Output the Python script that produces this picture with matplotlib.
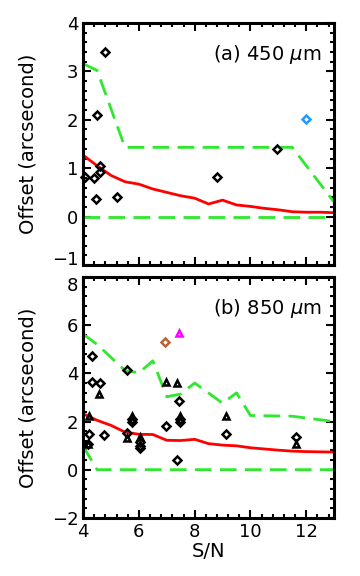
import matplotlib
matplotlib.use('Agg')
import matplotlib.pyplot as plt
from matplotlib.ticker import MultipleLocator
from matplotlib.transforms import ScaledTranslation

# panel (a) 450 um
a_sn = [4.0, 4.5, 5.0, 5.5, 6.0, 6.5, 7.0, 7.5, 8.0, 8.5, 9.0, 9.5, 10.0, 10.5, 11.0, 11.5, 12.0, 12.5, 13.0]
a_mean = [1.27, 1.05, 0.85, 0.72, 0.67, 0.57, 0.50, 0.43, 0.38, 0.26, 0.34, 0.24, 0.21, 0.17, 0.14, 0.10, 0.09, 0.09, 0.08]
a_up_sn = [4.0, 4.5, 5.5, 11.5, 13.0]
a_up = [3.16, 3.02, 1.43, 1.43, 0.30]
a_lo_sn = [4.0, 13.0]
a_lo = [0.0, 0.0]
a_dia_x = [4.08, 4.38, 4.50, 4.47, 4.59, 4.59, 4.78, 5.20, 8.81, 10.94]
a_dia_y = [0.81, 0.79, 2.10, 0.37, 1.04, 0.92, 3.40, 0.41, 0.81, 1.39]
a_blue = (11.99, 2.01)

# panel (b) 850 um
b_sn = [4.0, 4.5, 5.0, 5.5, 6.0, 6.5, 7.0, 7.5, 8.0, 8.5, 9.0, 9.5, 10.0, 10.5, 11.0, 11.5, 12.0, 12.5, 13.0]
b_mean = [2.32, 2.05, 1.84, 1.56, 1.47, 1.46, 1.22, 1.21, 1.26, 1.08, 1.02, 0.99, 0.91, 0.86, 0.81, 0.77, 0.75, 0.74, 0.73]
b_up_sn = [4.0, 4.5, 5.5, 6.0, 6.5, 7.0, 7.5, 8.0, 9.0, 9.5, 10.0, 11.5, 13.0]
b_up = [5.63, 5.20, 4.12, 4.02, 4.52, 3.03, 3.14, 3.60, 2.76, 3.19, 2.25, 2.22, 2.00]
b_lo_sn = [4.0, 4.5, 13.0]
b_lo = [0.97, 0.0, 0.0]
b_dia_x = [4.17, 4.20, 4.32, 4.32, 4.60, 4.74, 5.57, 5.57, 5.74, 5.74, 6.04, 6.04, 6.04,
           6.96, 7.44, 7.46, 7.46, 7.36, 9.14, 11.65]
b_dia_y = [1.08, 1.49, 4.73, 3.63, 3.60, 1.46, 4.14, 1.52, 2.10, 1.97, 1.13, 1.00, 0.90,
           1.83, 2.84, 2.10, 2.00, 0.39, 1.49, 1.36]
b_tri_x = [4.17, 4.20, 4.58, 5.57, 5.74, 6.04, 6.96, 7.36, 7.46, 9.14, 11.65]
b_tri_y = [1.08, 2.24, 3.14, 1.31, 2.24, 1.34, 3.63, 3.60, 2.24, 2.24, 1.05]
b_brown = (6.94, 5.32)
b_magenta = (7.44, 5.66)

plt.rcParams['font.family'] = ['DejaVu Sans']
fig = plt.figure(figsize=(3.6, 5.76), dpi=100)
ax1 = fig.add_axes([0.231, 0.540, 0.697, 0.420])
ax2 = fig.add_axes([0.231, 0.101, 0.697, 0.418])

green = '#2ee82e'
dash = (0, (6, 3))
dia = dict(linestyle='none', marker='D', markersize=4, markerfacecolor='none', markeredgewidth=1.8)
tri = dict(linestyle='none', marker='^', markersize=5, markerfacecolor='none', markeredgewidth=1.8)


def style(ax, ylo, yhi, ymaj, ymin):
    ax.set_xlim(4, 13)
    ax.set_ylim(ylo, yhi)
    ax.xaxis.set_major_locator(MultipleLocator(2))
    ax.xaxis.set_minor_locator(MultipleLocator(0.4))
    ax.yaxis.set_major_locator(MultipleLocator(ymaj))
    ax.yaxis.set_minor_locator(MultipleLocator(ymin))
    ax.tick_params(which='both', direction='in', top=True, right=True, width=1.5, labelsize=13)
    ax.tick_params(which='major', length=6)
    ax.tick_params(which='minor', length=3)
    for s in ax.spines.values():
        s.set_linewidth(2.2)
    ax.set_ylabel('Offset (arcsecond)', fontsize=14, labelpad=10)


ax1.plot(a_sn, a_mean, color='red', lw=2)
ax1.plot(a_up_sn, a_up, color=green, lw=2, linestyle=dash)
ax1.plot(a_lo_sn, a_lo, color=green, lw=2, linestyle=dash)
ax1.plot(a_dia_x, a_dia_y, markeredgecolor='black', clip_on=False, **dia)
ax1.plot([a_blue[0]], [a_blue[1]], markeredgecolor='#2299ff', **dia)
ax1.text(0.95, 0.87, r'(a) 450 $\mu$m', transform=ax1.transAxes, ha='right', va='center', fontsize=14)
style(ax1, -1, 4, 1, 0.2)
ax1.tick_params(labelbottom=False)

ax2.plot(b_sn, b_mean, color='red', lw=2)
ax2.plot(b_up_sn, b_up, color=green, lw=2, linestyle=dash)
ax2.plot(b_lo_sn, b_lo, color=green, lw=2, linestyle=dash)
ax2.plot(b_dia_x, b_dia_y, markeredgecolor='black', **dia)
ax2.plot(b_tri_x, b_tri_y, markeredgecolor='black', **tri)
ax2.plot([b_brown[0]], [b_brown[1]], markeredgecolor='#b5653a', **dia)
ax2.plot([b_magenta[0]], [b_magenta[1]], markeredgecolor='#ff00ff', **tri)
ax2.text(0.95, 0.87, r'(b) 850 $\mu$m', transform=ax2.transAxes, ha='right', va='center', fontsize=14)
style(ax2, -2, 8, 2, 0.4)
ax2.set_xlabel('S/N', fontsize=14, labelpad=1)

# nudge the two labels that meet between the panels apart
fig.canvas.draw()
for lbl in ax1.get_yticklabels():
    if lbl.get_text() in ('\u22121', '-1'):
        lbl.set_transform(lbl.get_transform() + ScaledTranslation(0, 5 / 72, fig.dpi_scale_trans))
for lbl in ax2.get_yticklabels():
    if lbl.get_text() == '8':
        lbl.set_transform(lbl.get_transform() + ScaledTranslation(0, -5 / 72, fig.dpi_scale_trans))

fig.savefig('out.png', dpi=100)
